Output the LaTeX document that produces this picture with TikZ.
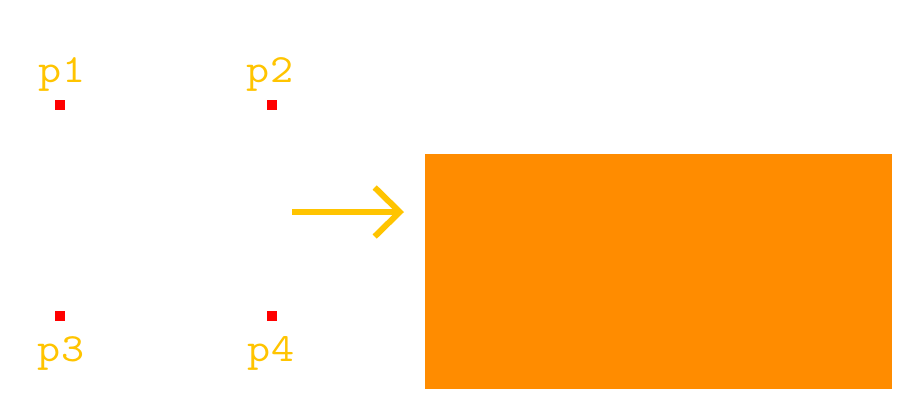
\documentclass[tikz,border=0pt]{standalone}
\usetikzlibrary{arrows.meta}
\definecolor{gold}{RGB}{255,196,0}
\definecolor{dorange}{RGB}{255,140,0}
\begin{document}
\begin{tikzpicture}[x=1pt,y=-1pt,
  pt/.style={fill=red,minimum size=10pt,inner sep=0pt,outer sep=0pt},
  lbl/.style={text=gold,font=\ttfamily\fontsize{40}{40}\selectfont,inner sep=0pt,anchor=base,xscale=1.12}]
\useasboundingbox (0,0) rectangle (900,400);
\node[pt] (q1) at (60,105) {};
\node[pt] (q2) at (272,105) {};
\node[pt] (q3) at (60,316) {};
\node[pt] (q4) at (272,316) {};
\node[lbl] (l1) at (62,82) {p1};
\node[lbl] (l2) at (270,82) {p2};
\node[lbl] (l3) at (61,361) {p3};
\node[lbl] (l4) at (271,361) {p4};
\coordinate (a0) at (292,212);
\coordinate (a1) at (404,212);
\draw[gold,line width=6pt,-{Straight Barb[length=25pt,width=49pt,line width=6pt]}] (a0) -- (a1);
\fill[dorange] (425,154) rectangle (892,389);
\end{tikzpicture}
\end{document}
